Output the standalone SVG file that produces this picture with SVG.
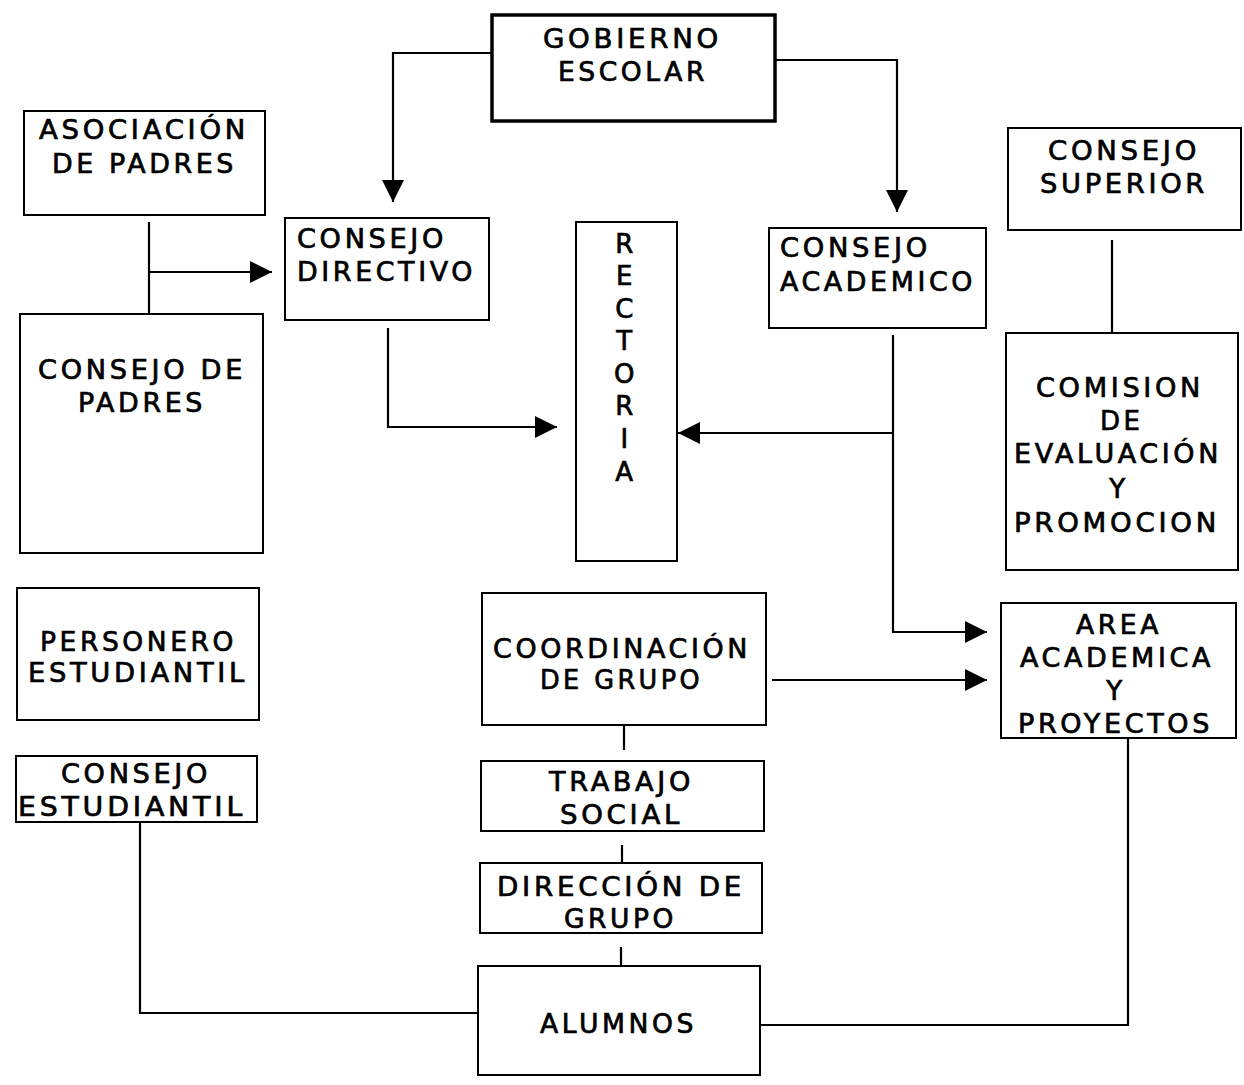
<svg xmlns="http://www.w3.org/2000/svg" width="1244" height="1085" viewBox="0 0 1244 1085">
<style>
rect.box{fill:#fff;stroke:#000;stroke-width:2}
rect.thick{stroke-width:3.5}
text{font-family:"DejaVu Sans","Verdana",sans-serif;font-size:26px;letter-spacing:3.5px;fill:#000;stroke:#000;stroke-width:0.7}
.c path{fill:none;stroke:#000;stroke-width:2.2}
</style>
<defs>
<marker id="ah" viewBox="0 0 10 10" markerUnits="userSpaceOnUse" markerWidth="24" markerHeight="22" refX="10" refY="5" orient="auto">
<path d="M0,0 L10,5 L0,10 z" fill="#000"/>
</marker>
</defs>
<rect width="1244" height="1085" fill="#fff"/>
<g class="c" id="connectors">
<path d="M492,53 H393 V202" marker-end="url(#ah)"/>
<path d="M775,60 H897 V212" marker-end="url(#ah)"/>
<path d="M149,222 V323"/>
<path d="M149,272 H272" marker-end="url(#ah)"/>
<path d="M388,328 V427 H557" marker-end="url(#ah)"/>
<path d="M893,335 V632 H987" marker-end="url(#ah)"/>
<path d="M893,433 H678" marker-end="url(#ah)"/>
<path d="M772,680 H987" marker-end="url(#ah)"/>
<path d="M1112,240 V340"/>
<path d="M624,726 V750"/>
<path d="M622,845 V868"/>
<path d="M621,947 V974"/>
<path d="M140,810 V1013 H478"/>
<path d="M760,1025 H1128 V722"/>
</g>
<g id="gobierno">
<rect class="box thick" x="492" y="15" width="283" height="106"/>
<text x="543" y="48" font-size="28" textLength="179" lengthAdjust="spacingAndGlyphs">GOBIERNO</text>
<text x="558" y="81" font-size="28" textLength="150" lengthAdjust="spacingAndGlyphs">ESCOLAR</text>
</g>
<g id="asociacion">
<rect class="box" x="24" y="111" width="241" height="104"/>
<text x="39" y="139" textLength="210" lengthAdjust="spacingAndGlyphs">ASOCIACIÓN</text>
<text x="52" y="173" textLength="185" lengthAdjust="spacingAndGlyphs">DE PADRES</text>
</g>
<g id="consejo-directivo">
<rect class="box" x="285" y="218" width="204" height="102"/>
<text x="297" y="248" textLength="150" lengthAdjust="spacingAndGlyphs">CONSEJO</text>
<text x="297" y="281" textLength="179" lengthAdjust="spacingAndGlyphs">DIRECTIVO</text>
</g>
<g id="rectoria">
<rect class="box" x="576" y="222" width="101" height="339"/>
<g text-anchor="middle" font-size="27" letter-spacing="0">
<text x="626" y="253">R</text>
<text x="626" y="285">E</text>
<text x="626" y="318">C</text>
<text x="626" y="350">T</text>
<text x="626" y="383">O</text>
<text x="626" y="415">R</text>
<text x="626" y="448">I</text>
<text x="626" y="481">A</text>
</g>
</g>
<g id="consejo-academico">
<rect class="box" x="769" y="228" width="217" height="100"/>
<text x="780" y="257" textLength="151" lengthAdjust="spacingAndGlyphs">CONSEJO</text>
<text x="780" y="291" textLength="196" lengthAdjust="spacingAndGlyphs">ACADEMICO</text>
</g>
<g id="consejo-superior">
<rect class="box" x="1008" y="128" width="233" height="102"/>
<text x="1048" y="160" textLength="152" lengthAdjust="spacingAndGlyphs">CONSEJO</text>
<text x="1040" y="193" textLength="168" lengthAdjust="spacingAndGlyphs">SUPERIOR</text>
</g>
<g id="consejo-padres">
<rect class="box" x="20" y="314" width="243" height="239"/>
<text x="38" y="379" textLength="208" lengthAdjust="spacingAndGlyphs">CONSEJO DE</text>
<text x="78" y="412" textLength="128" lengthAdjust="spacingAndGlyphs">PADRES</text>
</g>
<g id="comision">
<rect class="box" x="1006" y="333" width="232" height="237"/>
<text x="1036" y="397" textLength="168" lengthAdjust="spacingAndGlyphs">COMISION</text>
<text x="1100" y="430" letter-spacing="1.5">DE</text>
<text x="1014" y="463" textLength="208" lengthAdjust="spacingAndGlyphs">EVALUACIÓN</text>
<text x="1119" y="498" text-anchor="middle" letter-spacing="0">Y</text>
<text x="1014" y="532" textLength="206" lengthAdjust="spacingAndGlyphs">PROMOCION</text>
</g>
<g id="personero">
<rect class="box" x="17" y="588" width="242" height="132"/>
<text x="40" y="651" textLength="197" lengthAdjust="spacingAndGlyphs">PERSONERO</text>
<text x="28" y="682" textLength="220" lengthAdjust="spacingAndGlyphs">ESTUDIANTIL</text>
</g>
<g id="coordinacion">
<rect class="box" x="482" y="593" width="284" height="132"/>
<text x="493" y="658" textLength="258" lengthAdjust="spacingAndGlyphs">COORDINACIÓN</text>
<text x="540" y="689" textLength="163" lengthAdjust="spacingAndGlyphs">DE GRUPO</text>
</g>
<g id="area-academica">
<rect class="box" x="1001" y="603" width="235" height="135"/>
<text x="1076" y="634" textLength="86" lengthAdjust="spacingAndGlyphs">AREA</text>
<text x="1020" y="667" textLength="194" lengthAdjust="spacingAndGlyphs">ACADEMICA</text>
<text x="1116" y="700" text-anchor="middle" letter-spacing="0">Y</text>
<text x="1018" y="733" textLength="195" lengthAdjust="spacingAndGlyphs">PROYECTOS</text>
</g>
<g id="consejo-estudiantil">
<rect class="box" x="16" y="756" width="241" height="66"/>
<text x="61" y="783" textLength="150" lengthAdjust="spacingAndGlyphs">CONSEJO</text>
<text x="18" y="816" textLength="228" lengthAdjust="spacingAndGlyphs">ESTUDIANTIL</text>
</g>
<g id="trabajo-social">
<rect class="box" x="481" y="761" width="283" height="70"/>
<text x="549" y="791" textLength="145" lengthAdjust="spacingAndGlyphs">TRABAJO</text>
<text x="560" y="824" textLength="123" lengthAdjust="spacingAndGlyphs">SOCIAL</text>
</g>
<g id="direccion">
<rect class="box" x="480" y="863" width="282" height="70"/>
<text x="497" y="896" textLength="248" lengthAdjust="spacingAndGlyphs">DIRECCIÓN DE</text>
<text x="564" y="928" textLength="113" lengthAdjust="spacingAndGlyphs">GRUPO</text>
</g>
<g id="alumnos">
<rect class="box" x="478" y="966" width="282" height="109"/>
<text x="540" y="1033" textLength="157" lengthAdjust="spacingAndGlyphs">ALUMNOS</text>
</g>
</svg>
